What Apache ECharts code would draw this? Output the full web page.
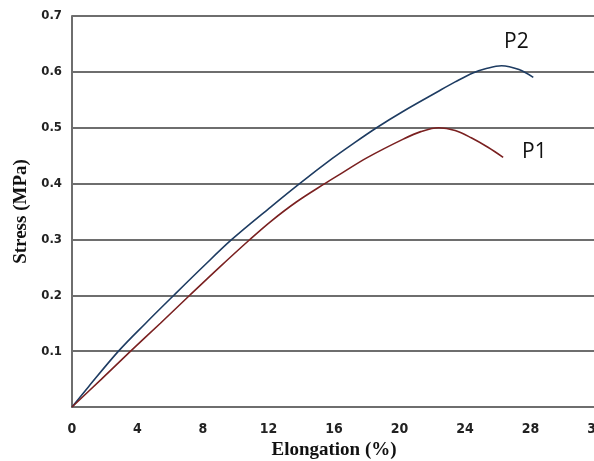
<!DOCTYPE html>
<html>
<head>
<meta charset="utf-8">
<style>html,body{margin:0;padding:0;background:#fff;overflow:hidden;}#c{width:594px;height:461px;}</style>
<script src="https://cdn.jsdelivr.net/npm/echarts@6/dist/echarts.min.js"></script>
</head>
<body>
<div id="c"></div>
<script>
// Elongation (%) and Stress (MPa)
const xTicks = [0, 4, 8, 12, 16, 20, 24, 28, 32];
const yTicks = [0.1, 0.2, 0.3, 0.4, 0.5, 0.6, 0.7];

const p2Strain = [0, 1, 2.84, 4.5, 6.22, 8, 9.76, 12.13, 13.9, 15.9, 17, 18.6, 20.26, 22.3, 23.4, 24.48, 25.3, 26.23, 27.3, 28.17];
const p2Stress = [0, 0.036, 0.1, 0.15, 0.2, 0.251, 0.3, 0.358, 0.4, 0.445, 0.468, 0.5, 0.53, 0.564, 0.582, 0.598, 0.606, 0.611, 0.604, 0.59];

const p1Strain = [0, 1.8, 3.58, 5.4, 7.19, 9.0, 10.83, 12.13, 13.7, 15.44, 16.55, 18.0, 20.26, 21.3, 22.4, 23.4, 24.38, 25.4, 26.33];
const p1Stress = [0, 0.05, 0.1, 0.15, 0.2, 0.25, 0.299, 0.332, 0.367, 0.4, 0.42, 0.446, 0.48, 0.493, 0.5, 0.495, 0.482, 0.465, 0.447];

const pairs = (xs, ys) => xs.map((x, i) => [x, ys[i]]);

const tickFont = "'Liberation Sans Narrow', 'DejaVu Sans Condensed', sans-serif";

const chart = echarts.init(document.getElementById('c'), null, {renderer: 'canvas'});
chart.setOption({
  backgroundColor: '#ffffff',
  animation: false,
  grid: {left: 72, right: -2, top: 16, bottom: 54, containLabel: false, outerBoundsMode: 'none'},
  xAxis: {
    type: 'value', min: 0, max: 32, interval: 4,
    name: 'Elongation (%)', nameLocation: 'middle', nameGap: 33,
    nameTextStyle: {fontFamily: 'Liberation Serif', fontWeight: 'bold', fontSize: 19, color: '#111'},
    axisLine: {show: true, lineStyle: {color: '#6e6e6e', width: 2}},
    axisTick: {show: false},
    splitLine: {show: false},
    axisLabel: {margin: 15, fontFamily: tickFont, fontWeight: 'bold', fontSize: 14, color: '#222',
      formatter: v => xTicks.includes(v) ? String(v) : ''}
  },
  yAxis: {
    type: 'value', min: 0, max: 0.7, interval: 0.1,
    name: 'Stress (MPa)', nameLocation: 'middle', nameGap: 37, nameRotate: 90,
    nameTextStyle: {fontFamily: 'Liberation Serif', fontWeight: 'bold', fontSize: 19, color: '#111'},
    axisLine: {show: true, lineStyle: {color: '#6e6e6e', width: 2}},
    axisTick: {show: false},
    splitLine: {show: true, lineStyle: {color: '#6e6e6e', width: 2}},
    axisLabel: {margin: 10, fontFamily: tickFont, fontWeight: 'bold', fontSize: 13, color: '#222',
      formatter: v => {
        const t = yTicks.find(k => Math.abs(k - v) < 1e-6);
        return t === undefined ? '' : t.toFixed(1);
      }}
  },
  series: [
    {name: 'P2', type: 'line', smooth: 0.35, showSymbol: false, symbol: 'none',
     lineStyle: {color: '#1e3c62', width: 1.6}, data: pairs(p2Strain, p2Stress)},
    {name: 'P1', type: 'line', smooth: 0.35, showSymbol: false, symbol: 'none',
     lineStyle: {color: '#7a2020', width: 1.6}, data: pairs(p1Strain, p1Stress)}
  ],
  graphic: [
    {type: 'text', left: 504, top: 32, style: {text: 'P2', fontFamily: 'Open Sans', fontSize: 21, fill: '#111'}},
    {type: 'text', left: 522, top: 142, style: {text: 'P1', fontFamily: 'Open Sans', fontSize: 21, fill: '#111'}}
  ]
});
</script>
</body>
</html>
